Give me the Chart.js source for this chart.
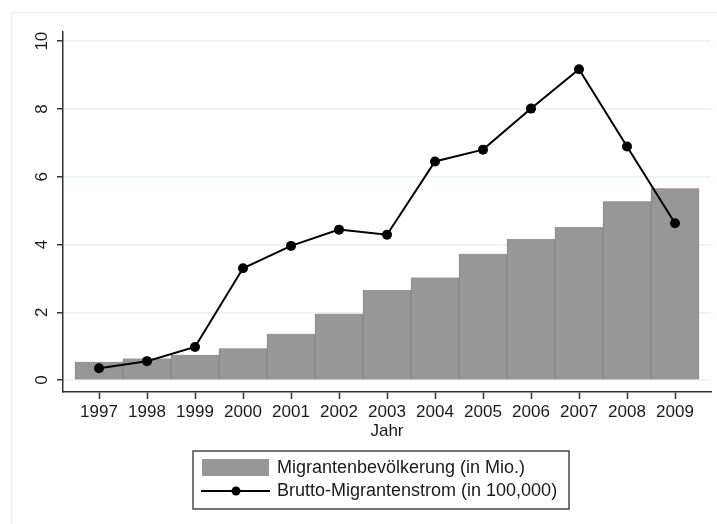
<!DOCTYPE html>
<html>
<head>
<meta charset="utf-8">
<script src="https://cdn.jsdelivr.net/npm/chart.js@4"></script>
<style>
  html, body { margin: 0; padding: 0; background: #fff; }
  #wrap { width: 717px; height: 524px; }
</style>
</head>
<body>
<div id="wrap"><canvas id="myChart" width="717" height="524"></canvas></div>
<script>
const years = [1997, 1998, 1999, 2000, 2001, 2002, 2003, 2004, 2005, 2006, 2007, 2008, 2009];
const population = [0.54, 0.64, 0.75, 0.94, 1.37, 1.96, 2.66, 3.03, 3.73, 4.16, 4.52, 5.28, 5.66]; // in Mio.
const inflow = [0.35, 0.56, 0.98, 3.30, 3.96, 4.44, 4.29, 6.45, 6.80, 8.01, 9.17, 6.89, 4.63]; // in 100,000
const yTicks = [0, 2, 4, 6, 8, 10];
const barLabel = "Migrantenbevölkerung (in Mio.)";
const lineLabel = "Brutto-Migrantenstrom (in 100,000)";

const FONT = "'Liberation Sans', Arial, sans-serif";
const barGray = "#979797";
const textColor = "#1a1a1a";

// draws rotated y labels, the faint outer frame and the boxed legend
const extras = {
  id: "extras",
  afterDraw(chart) {
    const ctx = chart.ctx;
    const ys = chart.scales.y;
    ctx.save();

    // faint frame of the graph region
    ctx.strokeStyle = "#e4eef5";
    ctx.lineWidth = 1;
    ctx.beginPath();
    ctx.moveTo(11.5, chart.height);
    ctx.lineTo(11.5, 12.5);
    ctx.lineTo(chart.width, 12.5);
    ctx.stroke();

    // y tick labels, turned 90 degrees
    ctx.fillStyle = textColor;
    ctx.font = "17px " + FONT;
    ctx.textAlign = "center";
    ctx.textBaseline = "middle";
    yTicks.forEach(v => {
      ctx.save();
      ctx.translate(42, ys.getPixelForValue(v));
      ctx.rotate(-Math.PI / 2);
      ctx.fillText(String(v), 0, 0);
      ctx.restore();
    });

    // legend
    const bx = 193, by = 451, bw = 376, bh = 58;
    ctx.strokeStyle = "#4a4a4a";
    ctx.lineWidth = 1.5;
    ctx.strokeRect(bx, by, bw, bh);

    ctx.fillStyle = barGray;
    ctx.fillRect(bx + 9, by + 8, 67, 17);

    ctx.strokeStyle = "#000";
    ctx.lineWidth = 2;
    ctx.beginPath();
    ctx.moveTo(bx + 8, by + 40);
    ctx.lineTo(bx + 77, by + 40);
    ctx.stroke();
    ctx.fillStyle = "#000";
    ctx.beginPath();
    ctx.arc(bx + 43, by + 40, 4.5, 0, Math.PI * 2);
    ctx.fill();

    ctx.fillStyle = textColor;
    ctx.textAlign = "left";
    ctx.font = "18px " + FONT;
    ctx.fillText(barLabel, bx + 84, by + 17);
    ctx.fillText(lineLabel, bx + 84, by + 40);

    ctx.restore();
  }
};

const ctx = document.getElementById("myChart");

new Chart(ctx, {
  type: "bar",
  data: {
    datasets: [
      {
        type: "line",
        label: lineLabel,
        data: years.map((yr, i) => ({ x: yr, y: inflow[i] })),
        borderColor: "#000",
        borderWidth: 2,
        pointRadius: 5,
        pointBackgroundColor: "#000",
        pointBorderWidth: 0,
        tension: 0,
        order: 0
      },
      {
        type: "bar",
        label: barLabel,
        data: years.map((yr, i) => ({ x: yr, y: population[i] })),
        backgroundColor: barGray,
        borderColor: "#888",
        borderWidth: { left: 1, right: 1, top: 0, bottom: 0 },
        barPercentage: 1,
        categoryPercentage: 1,
        grouped: false,
        order: 1
      }
    ]
  },
  options: {
    responsive: false,
    animation: false,
    layout: { padding: { top: 32, right: 6, left: 0, bottom: 76 } },
    plugins: {
      legend: { display: false },
      tooltip: { enabled: false }
    },
    scales: {
      x: {
        type: "linear",
        min: 1996.25,
        max: 2009.75,
        offset: false,
        afterBuildTicks: (scale) => { scale.ticks = years.map(v => ({ value: v })); },
        afterFit: (scale) => { scale.height = 56; },
        ticks: {
          color: textColor,
          padding: 3,
          maxRotation: 0,
          autoSkip: false,
          font: { family: FONT, size: 17 },
          callback: (v) => String(v)
        },
        grid: {
          offset: false,
          drawOnChartArea: false,
          drawTicks: true,
          tickLength: 7,
          tickWidth: 1.5,
          tickColor: "#333"
        },
        border: { display: true, color: "#333", width: 1.5 },
        title: {
          display: true,
          text: "Jahr",
          color: textColor,
          font: { family: FONT, size: 17 },
          padding: { top: 0, bottom: 6 }
        }
      },
      y: {
        min: -0.35,
        max: 10.27,
        afterBuildTicks: (scale) => { scale.ticks = yTicks.map(v => ({ value: v })); },
        afterFit: (scale) => { scale.width = 63; },
        ticks: { display: false },
        grid: {
          color: "#e6f0f7",
          lineWidth: 1.5,
          drawTicks: true,
          tickLength: 6,
          tickWidth: 1.5,
          tickColor: "#333"
        },
        border: { display: true, color: "#333", width: 1.5 }
      }
    }
  },
  plugins: [extras]
});
</script>
</body>
</html>
